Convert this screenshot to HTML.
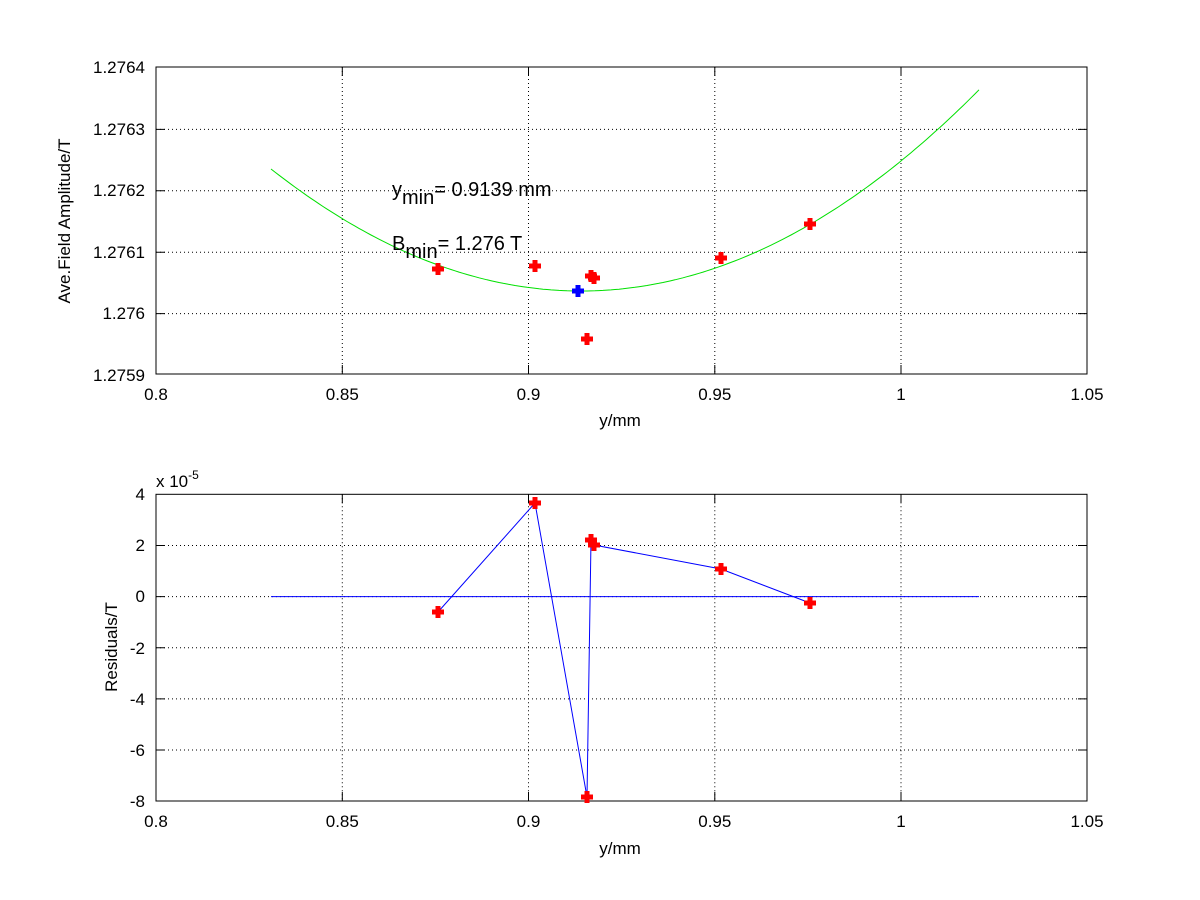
<!DOCTYPE html>
<html><head><style>body{margin:0;background:#fff}svg{display:block}text{font-family:"Liberation Sans",sans-serif;font-size:17px;fill:#000}</style></head><body>
<svg width="1200" height="900" viewBox="0 0 1200 900">
<rect width="1200" height="900" fill="#fff"/>
<g stroke="#000" stroke-width="1" stroke-dasharray="1,3" fill="none">
<path d="M342.3 67V374M528.5 67V374M714.8 67V374M901 67V374"/>
<path d="M156 129.4H1087M156 190.8H1087M156 252.2H1087M156 313.6H1087"/>
<path d="M342.3 494.3V801M528.5 494.3V801M714.8 494.3V801M901 494.3V801"/>
<path d="M156 545.5H1087M156 596.6H1087M156 647.8H1087M156 698.9H1087M156 750H1087"/>
</g>
<g stroke="#000" stroke-width="1" fill="none">
<rect x="156" y="67" width="931" height="307"/>
<rect x="156" y="494.3" width="931" height="306.7"/>
<path d="M342.3 374v-9M528.5 374v-9M714.8 374v-9M901 374v-9M342.3 67v9M528.5 67v9M714.8 67v9M901 67v9"/>
<path d="M156 129.4h9M156 190.8h9M156 252.2h9M156 313.6h9M1087 129.4h-9M1087 190.8h-9M1087 252.2h-9M1087 313.6h-9"/>
<path d="M342.3 801v-9M528.5 801v-9M714.8 801v-9M901 801v-9M342.3 494.3v9M528.5 494.3v9M714.8 494.3v9M901 494.3v9"/>
<path d="M156 545.5h9M156 596.6h9M156 647.8h9M156 698.9h9M156 750h9M1087 545.5h-9M1087 596.6h-9M1087 647.8h-9M1087 698.9h-9M1087 750h-9"/>
</g>
<path id="g" fill="none" stroke="#00e000" stroke-width="1" d=""/>
<script>
var d="";for(var px=271;px<=979;px+=4){var dx=px-581;var y=291-0.00127*dx*dx;d+=(px==271?"M":"L")+px+" "+y.toFixed(1);}
document.getElementById("g").setAttribute("d",d);
</script>
<path d="M271 596.6H979" stroke="#0000ff" stroke-width="1"/>
<path d="M438 612L535 503L587 797L591 540L594 545L721 569L810 603" fill="none" stroke="#0000ff" stroke-width="1"/>
<g stroke="#ff0000" stroke-width="5" fill="none">
<path d="M432 269h12M438 263v12M529 266h12M535 260v12M581 339h12M587 333v12M585 276h12M591 270v12M588 278h12M594 272v12M715 258h12M721 252v12M804 224h12M810 218v12"/>
<path d="M432 612h12M438 606v12M529 503h12M535 497v12M581 797h12M587 791v12M585 540h12M591 534v12M588 545h12M594 539v12M715 569h12M721 563v12M804 603h12M810 597v12"/>
</g>
<path d="M572 291h12M578 285v12" stroke="#0000ff" stroke-width="5"/>
<g text-anchor="middle">
<text x="156" y="400">0.8</text><text x="342.3" y="400">0.85</text><text x="528.5" y="400">0.9</text><text x="714.8" y="400">0.95</text><text x="901" y="400">1</text><text x="1087" y="400">1.05</text>
<text x="156" y="827">0.8</text><text x="342.3" y="827">0.85</text><text x="528.5" y="827">0.9</text><text x="714.8" y="827">0.95</text><text x="901" y="827">1</text><text x="1087" y="827">1.05</text>
<text x="620" y="426">y/mm</text><text x="620" y="854">y/mm</text>
<text transform="translate(70 221) rotate(-90)">Ave.Field Amplitude/T</text>
<text transform="translate(117 647) rotate(-90)">Residuals/T</text>
</g>
<g text-anchor="end">
<text x="145" y="73">1.2764</text><text x="145" y="135">1.2763</text><text x="145" y="196">1.2762</text><text x="145" y="258">1.2761</text><text x="145" y="319">1.276</text><text x="145" y="381">1.2759</text>
<text x="145" y="500">4</text><text x="145" y="551">2</text><text x="145" y="602">0</text><text x="145" y="654">-2</text><text x="145" y="705">-4</text><text x="145" y="756">-6</text><text x="145" y="807">-8</text>
</g>
<text x="156" y="487">x 10<tspan dy="-8" style="font-size:12px">-5</tspan></text>
<text x="392" y="196" style="font-size:20px">y<tspan dy="8" style="font-size:20px">min</tspan><tspan dy="-8" style="font-size:20px">= 0.9139 mm</tspan></text>
<text x="392" y="250" style="font-size:20px">B<tspan dy="8" style="font-size:20px">min</tspan><tspan dy="-8" style="font-size:20px">= 1.276 T</tspan></text>
</svg>
</body></html>
